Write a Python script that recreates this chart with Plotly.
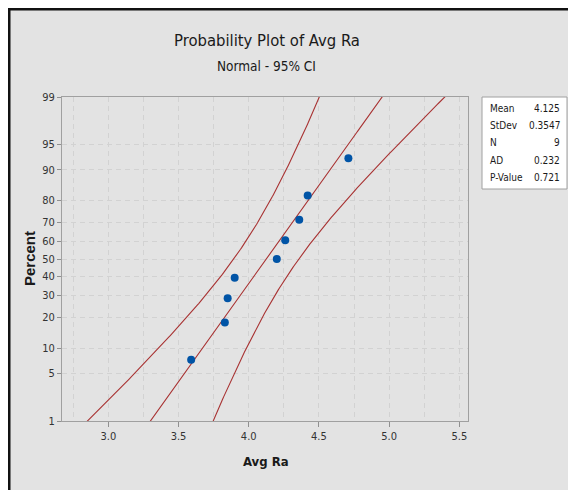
import plotly.graph_objects as go
from statistics import NormalDist
import math

# ---------------- data ----------------
avg_ra = [3.59, 3.83, 3.85, 3.90, 4.20, 4.26, 4.36, 4.42, 4.71]
percent = [7.4, 18.1, 28.7, 39.4, 50.0, 60.6, 71.3, 81.9, 92.6]
y_tick_labels = [1, 5, 10, 20, 30, 40, 50, 60, 70, 80, 90, 95, 99]
x_tick_vals = [3.0, 3.5, 4.0, 4.5, 5.0, 5.5]
stat_labels = ["Mean", "StDev", "N", "AD", "P-Value"]
stat_values = ["4.125", "0.3547", "9", "0.232", "0.721"]

mean = float(stat_values[0])
sd = float(stat_values[1])
n = int(stat_values[2])

nd = NormalDist()
def z(p):
    return nd.inv_cdf(p / 100.0)

# fitted line and 95% CI bands
zs = [-2.8 + i * 0.02 for i in range(281)]
fit = [mean + s * sd for s in zs]
half = [1.959964 * sd * math.sqrt(1.0 / n + s * s / (2.0 * n)) for s in zs]
lo = [f - h for f, h in zip(fit, half)]
hi = [f + h for f, h in zip(fit, half)]

# ---------------- layout geometry ----------------
OFF = 8  # page body margin
W, H = 576 - OFF, 490 - OFF
L, T = 62 - OFF, 97 - OFF
R = W - (468 - OFF)
B = H - (421 - OFF)
pw, ph = W - L - R, H - T - B
def px(xw):  # window x -> paper
    return (xw - OFF - L) / pw
def py(yw):  # window y -> paper
    return (H - B - (yw - OFF)) / ph

FONT = "DejaVu Sans Condensed, DejaVu Sans, sans-serif"
line_col = "#A83232"
txt_col = "#1a1a1a"

fig = go.Figure()
for xs in (lo, fit, hi):
    fig.add_trace(go.Scatter(x=xs, y=zs, mode="lines",
                             line=dict(color=line_col, width=1.1),
                             hoverinfo="skip", showlegend=False))
fig.add_trace(go.Scatter(x=avg_ra, y=[z(p) for p in percent], mode="markers",
                         marker=dict(color="#0054A6", size=8),
                         showlegend=False))

grid_col = "#D2D2D2"
fig.update_xaxes(range=[2.67, 5.562], tickvals=x_tick_vals,
                 ticktext=[f"{v:.1f}" for v in x_tick_vals],
                 showgrid=True, gridcolor=grid_col, griddash="5px,4px", gridwidth=1,
                 minor=dict(dtick=0.25, tick0=0, showgrid=True, gridcolor=grid_col,
                            griddash="5px,4px", gridwidth=1, ticks=""),
                 ticks="outside", ticklen=5, tickcolor="#909090",
                 showline=True, linecolor="#A0A0A0", linewidth=1, mirror=True,
                 zeroline=False,
                 tickfont=dict(family=FONT, size=11, color="#333333"))
fig.update_yaxes(range=[z(1), z(99)], tickvals=[z(v) for v in y_tick_labels],
                 ticktext=[str(v) for v in y_tick_labels],
                 showgrid=True, gridcolor=grid_col, griddash="5px,4px", gridwidth=1,
                 ticks="outside", ticklen=4, tickcolor="#909090",
                 showline=True, linecolor="#A0A0A0", linewidth=1, mirror=True,
                 zeroline=False,
                 tickfont=dict(family=FONT, size=11, color="#333333"))

shapes = [
    # outer gray panel with black frame (top & left)
    dict(type="rect", xref="paper", yref="paper", layer="below",
         x0=px(OFF + 1), x1=px(600), y0=py(520), y1=py(OFF + 1),
         fillcolor="#E3E3E3", line=dict(color="#111111", width=3)),
    # stats box
    dict(type="rect", xref="paper", yref="paper",
         x0=px(482), x1=px(567), y0=py(189), y1=py(97),
         fillcolor="white", line=dict(color="#A0A0A0", width=1)),
]

annotations = [
    dict(text="Probability Plot of Avg Ra", x=px(266.5), y=py(41), xref="paper", yref="paper",
         showarrow=False, xanchor="center", yanchor="middle",
         font=dict(family=FONT, size=16.5, color=txt_col)),
    dict(text="Normal - 95% CI", x=px(266.5), y=py(66), xref="paper", yref="paper",
         showarrow=False, xanchor="center", yanchor="middle",
         font=dict(family=FONT, size=13.5, color=txt_col)),
    dict(text="<b>Percent</b>", x=px(29), y=py(259), xref="paper", yref="paper",
         showarrow=False, xanchor="center", yanchor="middle", textangle=-90,
         font=dict(family="Liberation Sans, Arial, sans-serif", size=15, color=txt_col)),
    dict(text="<b>Avg Ra</b>", x=px(266), y=py(461), xref="paper", yref="paper",
         showarrow=False, xanchor="center", yanchor="middle",
         font=dict(family=FONT, size=13, color=txt_col)),
]
row_y = [108, 125, 142, 160, 177]
for lab, val, yy in zip(stat_labels, stat_values, row_y):
    annotations.append(dict(text=lab, x=px(488), y=py(yy), xref="paper", yref="paper",
                            showarrow=False, xanchor="left", yanchor="middle",
                            font=dict(family=FONT, size=10, color=txt_col)))
    annotations.append(dict(text=val, x=px(562), y=py(yy), xref="paper", yref="paper",
                            showarrow=False, xanchor="right", yanchor="middle",
                            font=dict(family=FONT, size=10, color=txt_col)))

fig.update_layout(width=W, height=H, autosize=False,
                  margin=dict(l=L, r=R, t=T, b=B, pad=0),
                  paper_bgcolor="white", plot_bgcolor="white",
                  shapes=shapes, annotations=annotations,
                  font=dict(family=FONT))

fig.write_html("out.html")
